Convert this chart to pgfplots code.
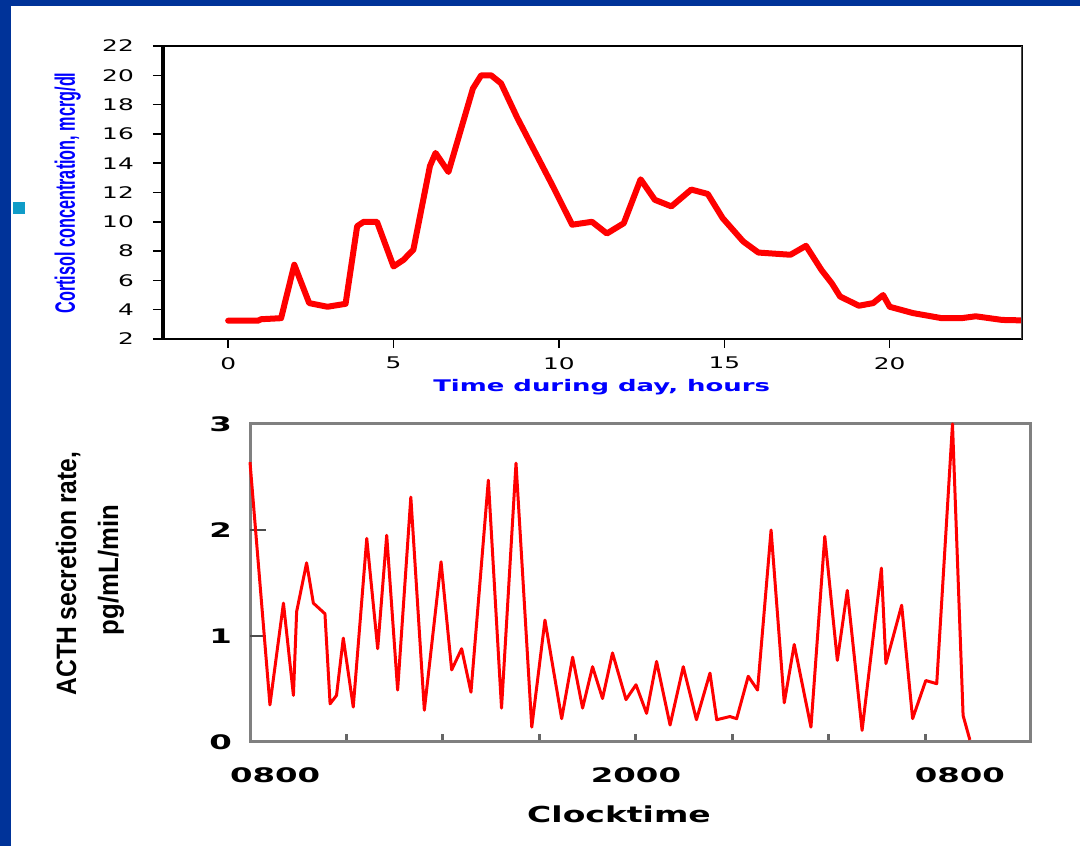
\documentclass[border=0pt]{standalone}
\usepackage{fontspec}
\setmainfont{DejaVu Sans}
\newfontfamily\arialfont{Liberation Sans}
\usepackage{graphicx}
\usepackage{pgfplots}
\pgfplotsset{compat=1.18}

\definecolor{slideblue}{RGB}{0,51,153}
\definecolor{bulletcyan}{RGB}{16,156,200}
\definecolor{framegray}{RGB}{128,128,128}

% wide tick labels, as in the slide
\newcommand\toplab[1]{\scalebox{1.55}[1]{\fontsize{16}{18}\selectfont #1}}
\newcommand\botlab[1]{\scalebox{1.62}[1]{\fontsize{20}{22}\selectfont\bfseries #1}}

\begin{document}
\begin{tikzpicture}[x=1pt,y=1pt]
\useasboundingbox (0,0) rectangle (1080,846);
\fill[white] (0,0) rectangle (1080,846);
\fill[slideblue] (0,0) rectangle (11,846);
\fill[slideblue] (0,840) rectangle (1080,846);
\fill[bulletcyan] (13,632) rectangle (25,644);

% cortisol over the day
\begin{axis}[
  at={(162pt,507pt)}, anchor=south west,
  scale only axis, width=860pt, height=293pt,
  xmin=-2, xmax=24, ymin=2, ymax=22,
  xtick={0,5,10,15,20},
  xticklabels={\toplab{0},\toplab{5},\toplab{10},\toplab{15},\toplab{20}},
  ytick={2,4,...,22},
  yticklabels={\toplab{2},\toplab{4},\toplab{6},\toplab{8},\toplab{10},\toplab{12},\toplab{14},\toplab{16},\toplab{18},\toplab{20},\toplab{22}},
  xtick pos=bottom, ytick pos=left,
  tick align=outside, major tick length=9pt,
  tick style={black, line width=1.5pt},
  axis line style={black, line width=1.5pt},
  xticklabel style={inner sep=0pt, yshift=-9pt},
  yticklabel style={inner sep=0pt, xshift=-19pt},
]
\addplot[red, line width=6pt, line join=round, line cap=round] coordinates {
  (0,3.25) (0.9,3.25) (1.0,3.35) (1.6,3.42) (2.0,7.07) (2.45,4.45)
  (3.0,4.2) (3.55,4.4) (3.9,9.7) (4.1,10.0) (4.5,10.0) (5.0,6.95)
  (5.3,7.4) (5.6,8.1) (6.1,13.8) (6.27,14.7) (6.66,13.4) (7.4,19.1)
  (7.65,20.0) (7.95,20.0) (8.25,19.45) (8.74,17.1) (9.2,15.1) (9.8,12.5)
  (10.4,9.8) (11.0,10.0) (11.45,9.2) (11.96,9.9) (12.47,12.9) (12.9,11.5)
  (13.4,11.05) (14.0,12.2) (14.5,11.9) (14.95,10.25) (15.57,8.66) (16.03,7.9)
  (17.0,7.75) (17.47,8.36) (17.94,6.7) (18.25,5.8) (18.5,4.9) (19.07,4.27)
  (19.5,4.45) (19.8,5.0) (20.0,4.2) (20.7,3.77) (21.55,3.43) (22.2,3.43)
  (22.6,3.55) (23.4,3.3) (24,3.27)
};
\draw[black, line width=5pt] (rel axis cs:0,0) -- (rel axis cs:0,1);
\draw[black!70, line width=3pt] (rel axis cs:1,0) -- (rel axis cs:1,1);
\end{axis}

% ACTH secretion rate
\begin{axis}[
  at={(250pt,104pt)}, anchor=south west,
  scale only axis, width=780pt, height=318pt,
  xmin=0, xmax=24.25, ymin=0, ymax=3,
  axis line style={framegray, line width=3pt},
  tick align=inside, major tick length=8pt,
  xtick={3,6,...,21}, xticklabels={},
  xtick style={black!60, line width=3pt},
  ytick={0,1,2,3},
  yticklabels={\botlab{0},\botlab{1},\botlab{2},\botlab{3}},
  ytick style={black!70, line width=2pt},
  xtick pos=bottom, ytick pos=left,
  extra x ticks={0.78,12,22.07},
  extra x tick labels={\botlab{0800},\botlab{2000},\botlab{0800}},
  extra x tick style={major tick length=0pt},
  extra y ticks={1,2}, extra y tick labels={},
  extra y tick style={major tick length=16pt},
  xticklabel style={inner sep=0pt, yshift=-25pt},
  yticklabel style={inner sep=0pt, xshift=-18pt},
  clip=false,
]
\addplot[red, line width=3pt, line join=round] coordinates {
  (0,2.64) (0.62,0.35) (1.04,1.31) (1.35,0.44) (1.45,1.23) (1.76,1.69)
  (1.97,1.31) (2.33,1.21) (2.49,0.36) (2.69,0.44) (2.90,0.98) (3.21,0.33)
  (3.63,1.92) (3.97,0.88) (4.25,1.95) (4.59,0.49) (5.0,2.31) (5.42,0.30)
  (5.94,1.70) (6.27,0.68) (6.58,0.88) (6.87,0.47) (7.41,2.47) (7.82,0.32)
  (8.27,2.63) (8.76,0.14) (9.17,1.15) (9.69,0.22) (10.03,0.80) (10.34,0.32)
  (10.65,0.71) (10.96,0.41) (11.27,0.84) (11.69,0.40) (12.0,0.54) (12.33,0.27)
  (12.64,0.76) (13.06,0.16) (13.47,0.71) (13.88,0.21) (14.30,0.65) (14.51,0.21)
  (14.92,0.24) (15.13,0.22) (15.49,0.62) (15.78,0.49) (16.2,2.0) (16.61,0.37)
  (16.92,0.92) (17.44,0.14) (17.87,1.94) (18.26,0.77) (18.57,1.43) (19.03,0.11)
  (19.63,1.64) (19.77,0.74) (20.26,1.29) (20.6,0.22) (21.01,0.58) (21.35,0.55)
  (21.84,3.0) (22.17,0.25) (22.38,0.02)
};
\end{axis}

\node[rotate=90, anchor=base, text=blue] at (75,653)
  {\scalebox{0.58}[1]{\arialfont\bfseries\fontsize{28}{30}\selectfont Cortisol concentration, mcrg/dl}};
\node[anchor=base, text=blue] at (601.7,454)
  {\scalebox{1.62}[1]{\bfseries\fontsize{16}{18}\selectfont Time during day, hours}};
\node[rotate=90, anchor=base] at (76,272.5)
  {\scalebox{0.88}[1]{\arialfont\bfseries\fontsize{28}{30}\selectfont ACTH secretion rate,}};
\node[rotate=90, anchor=base] at (118,276)
  {\scalebox{0.92}[1]{\arialfont\bfseries\fontsize{28}{30}\selectfont pg/mL/min}};
\node[anchor=base] at (619,23)
  {\scalebox{1.5}[1]{\bfseries\fontsize{22}{24}\selectfont Clocktime}};
\end{tikzpicture}
\end{document}
